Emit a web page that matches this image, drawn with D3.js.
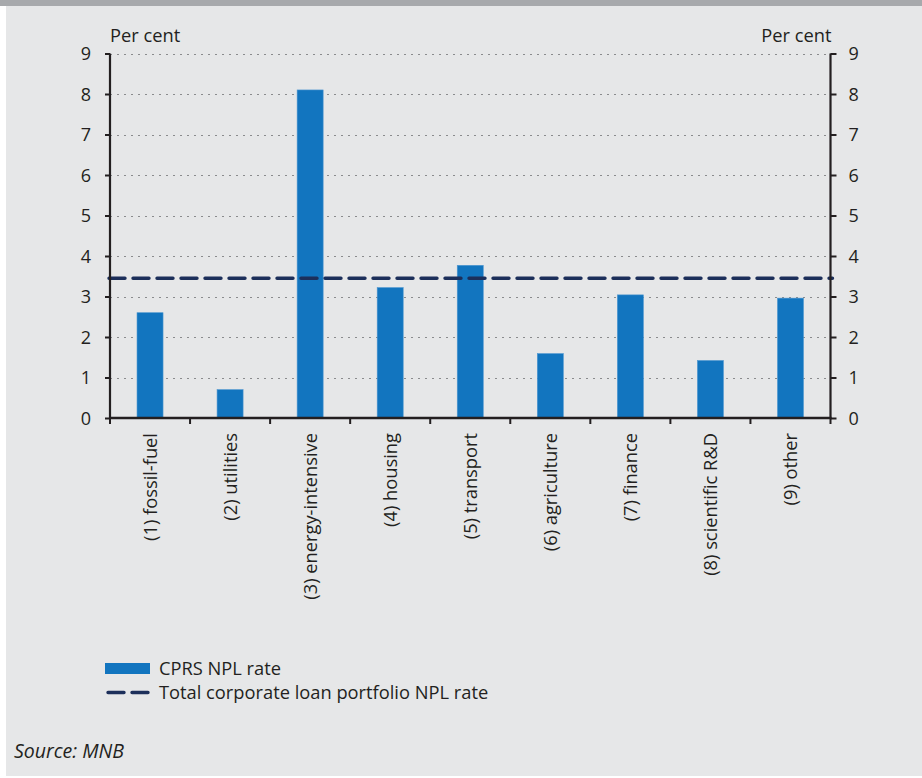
<!DOCTYPE html>
<html>
<head>
<meta charset="utf-8">
<script src="https://cdn.jsdelivr.net/npm/d3@7"></script>
<style>
  html, body { margin: 0; padding: 0; background: #ffffff; }
  svg { display: block; }
  text { font-family: "Open Sans", Lato, sans-serif; fill: #231f20; }
</style>
</head>
<body>
<svg id="chart" width="922" height="778"></svg>
<script>
// Sector NPL rates (per cent)
const categories = [
  "(1) fossil-fuel", "(2) utilities", "(3) energy-intensive", "(4) housing",
  "(5) transport", "(6) agriculture", "(7) finance", "(8) scientific R&D", "(9) other"
];
const cprsNplRate = [2.6, 0.7, 8.1, 3.22, 3.77, 1.59, 3.04, 1.42, 2.96];
const totalCorporateNplRate = 3.45;
const yTicks = [0, 1, 2, 3, 4, 5, 6, 7, 8, 9];
const seriesNames = ["CPRS NPL rate", "Total corporate loan portfolio NPL rate"];
const unitLabel = "Per cent";
const sourceNote = "Source: MNB";

const W = 922, H = 778;
const plot = { left: 110, right: 830.5, top: 53.5, bottom: 418 };
const barColor = "#1275bf";
const lineColor = "#1c2f5a";
const axisColor = "#231f20";
const fontFamily = "'Open Sans', Lato, sans-serif";
const fs = 18.3;

const svg = d3.select("#chart");

// panel background and top band
svg.append("rect").attr("x", 0).attr("y", 0).attr("width", W).attr("height", H).attr("fill", "#ffffff");
svg.append("rect").attr("x", 6).attr("y", 0).attr("width", W - 6).attr("height", H - 2).attr("fill", "#e6e7e8");
svg.append("rect").attr("x", 0).attr("y", 0).attr("width", W).attr("height", 6).attr("fill", "#a7a9ac");

const x = d3.scaleBand().domain(categories).range([plot.left, plot.right]).paddingInner(0.675).paddingOuter(0.3375);
const y = d3.scaleLinear().domain([0, 9]).range([plot.bottom, plot.top]);

// dotted gridlines
svg.append("g").selectAll("line").data(yTicks.filter(d => d > 0)).join("line")
  .attr("x1", plot.left).attr("x2", plot.right)
  .attr("y1", d => Math.round(y(d)) + 0.5).attr("y2", d => Math.round(y(d)) + 0.5)
  .attr("stroke", "#8a8b8d").attr("stroke-width", 1.2).attr("stroke-dasharray", "2,5");

// bars
svg.append("g").selectAll("rect").data(cprsNplRate).join("rect")
  .attr("x", (d, i) => x(categories[i]))
  .attr("width", x.bandwidth())
  .attr("y", d => y(d))
  .attr("height", d => y(0) - y(d))
  .attr("fill", barColor)
  .attr("stroke", "#4f97d0").attr("stroke-width", 0.6);

// total portfolio reference line
svg.append("line")
  .attr("x1", plot.left - 1).attr("x2", plot.right + 2)
  .attr("y1", y(totalCorporateNplRate)).attr("y2", y(totalCorporateNplRate))
  .attr("stroke", lineColor).attr("stroke-width", 3.4)
  .attr("stroke-dasharray", "16,8").attr("stroke-linecap", "round");

// left axis
const leftAxis = svg.append("g").attr("transform", `translate(${plot.left},0)`)
  .call(d3.axisLeft(y).tickValues(yTicks).tickSize(5).tickPadding(14).tickFormat(d3.format("d")));
// right axis
const rightAxis = svg.append("g").attr("transform", `translate(${plot.right},0)`)
  .call(d3.axisRight(y).tickValues(yTicks).tickSize(6).tickPadding(12).tickFormat(d3.format("d")));

[leftAxis, rightAxis].forEach(g => {
  g.select(".domain").attr("stroke", axisColor).attr("stroke-width", 2.2)
    .attr("d", `M0,${y(9)}V${y(0)}`);
  g.selectAll(".tick line").attr("stroke", axisColor).attr("stroke-width", 2);
  g.selectAll(".tick text").attr("font-size", 18).attr("font-family", fontFamily)
    .attr("fill", axisColor).attr("dy", "0.34em");
});

// category axis with ticks at band boundaries
const boundaries = d3.range(categories.length + 1).map(i => plot.left + i * x.step());
svg.append("g").selectAll("line").data(boundaries).join("line")
  .attr("x1", d => d).attr("x2", d => d)
  .attr("y1", y(0)).attr("y2", y(0) + 6)
  .attr("stroke", axisColor).attr("stroke-width", 2);
svg.append("line")
  .attr("x1", plot.left - 1).attr("x2", plot.right + 1)
  .attr("y1", y(0)).attr("y2", y(0))
  .attr("stroke", axisColor).attr("stroke-width", 2.4);

// rotated category labels
svg.append("g").selectAll("text").data(categories).join("text")
  .attr("transform", d => `translate(${x(d) + x.bandwidth() / 2 + 6.5},${y(0) + 15}) rotate(-90)`)
  .attr("text-anchor", "end")
  .attr("font-size", fs)
  .text(d => d);

// unit labels
svg.append("text").attr("x", plot.left).attr("y", 42).attr("font-size", fs).text(unitLabel);
svg.append("text").attr("x", plot.right + 1).attr("y", 42).attr("text-anchor", "end").attr("font-size", fs).text(unitLabel);

// legend
const legend = svg.append("g");
legend.append("rect").attr("x", 105).attr("y", 663).attr("width", 45).attr("height", 11).attr("fill", barColor);
legend.append("text").attr("x", 159).attr("y", 675).attr("font-size", fs).text(seriesNames[0]);
legend.append("line").attr("x1", 108).attr("x2", 148).attr("y1", 692.5).attr("y2", 692.5)
  .attr("stroke", lineColor).attr("stroke-width", 3.4)
  .attr("stroke-dasharray", "16,8").attr("stroke-linecap", "round");
legend.append("text").attr("x", 159).attr("y", 699).attr("font-size", fs).text(seriesNames[1]);

// source note
svg.append("text").attr("x", 14).attr("y", 758).attr("font-size", 19.5).attr("font-style", "italic").text(sourceNote);
</script>
</body>
</html>
